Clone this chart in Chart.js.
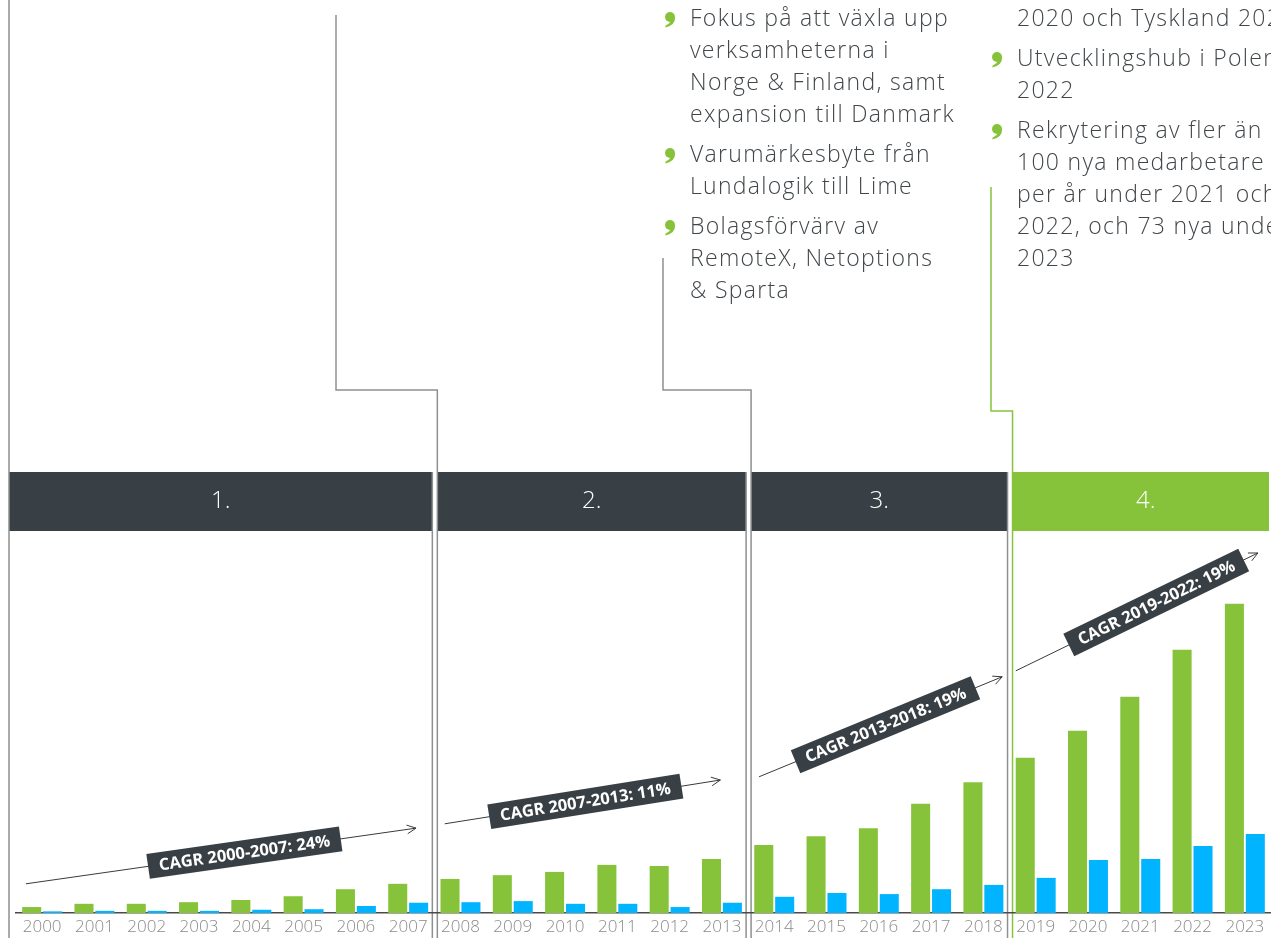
<!DOCTYPE html>
<html lang="sv">
<head>
<meta charset="utf-8">
<title>Lime – tillväxt 2000–2023</title>
<script src="https://cdn.jsdelivr.net/npm/chart.js@4.4.1/dist/chart.umd.min.js"></script>
<style>
  html, body { margin: 0; padding: 0; background: #ffffff; overflow: hidden; }
  #wrap { position: absolute; left: 0; top: 0; width: 1271px; height: 938px; }
  canvas { display: block; }
</style>
</head>
<body>
<div id="wrap"><canvas id="c" width="1271" height="938"></canvas></div>
<script>
// ---------- data (approx. MSEK) ----------
const years = ['2000','2001','2002','2003','2004','2005','2006','2007',
               '2008','2009','2010','2011','2012','2013',
               '2014','2015','2016','2017','2018',
               '2019','2020','2021','2022','2023'];
const greenValues = [11,17,17,20,24,31,44,54, 63,70,76,89,87,100, 126,142,157,202,242, 287,337,400,487,572];
const blueValues  = [3,4,4,4,6,7,13,19, 20,22,17,17,11,19, 30,37,35,44,52, 65,98,100,124,146];

// phases: first and last category index of each phase
const phaseLabels = ['1.','2.','3.','4.'];
const phaseStart  = [0, 8, 14, 19];
const phaseEnd    = [7, 13, 18, 23];

// CAGR arrows: [categoryIndex, value]
const cagrLabels = ['CAGR 2000-2007: 24%','CAGR 2007-2013: 11%','CAGR 2013-2018: 19%','CAGR 2019-2022: 19%'];
const cagrFrom   = [[-0.31, 54], [7.70, 165], [13.71, 252], [18.62, 448]];
const cagrTo     = [[7.15, 157], [12.97, 246], [18.36, 437], [23.25, 666]];
const cagrLabelAt = [0.56, 0.51, 0.52, 0.58];

// milestone texts (bulleted) per column
const col2Items = [
  ['Fokus på att växla upp','verksamheterna i','Norge & Finland, samt','expansion till Danmark'],
  ['Varumärkesbyte från','Lundalogik till Lime'],
  ['Bolagsförvärv av','RemoteX, Netoptions','& Sparta']
];
const col3Lead = ['2020 och Tyskland 2021'];
const col3Items = [
  ['Utvecklingshub i Polen','2022'],
  ['Rekrytering av fler än','100 nya medarbetare','per år under 2021 och','2022, och 73 nya under','2023']
];

// ---------- style ----------
const GREEN = '#86c33a';
const BLUE = '#00b4ff';
const DARK = '#394045';
const LINE = '#8e9090';
const TEXT = '#40464a';
const BODY_FONT = '300 23px "Open Sans", Lato, sans-serif';

function drawBullet(ctx, x, y) {
  ctx.save();
  ctx.fillStyle = GREEN;
  ctx.beginPath();
  ctx.arc(x, y, 5, 0, Math.PI * 2);
  ctx.fill();
  ctx.beginPath();
  ctx.moveTo(x + 5, y);
  ctx.quadraticCurveTo(x + 5.5, y + 8, x - 4.5, y + 10.5);
  ctx.lineTo(x - 4.5, y + 8.5);
  ctx.quadraticCurveTo(x + 1, y + 6, x + 0.5, y + 3);
  ctx.closePath();
  ctx.fill();
  ctx.restore();
}

function drawTextColumn(ctx, x, bulletX, firstBaseline, lead, items) {
  ctx.save();
  ctx.font = BODY_FONT;
  if ('letterSpacing' in ctx) ctx.letterSpacing = '1.3px';
  ctx.fillStyle = TEXT;
  ctx.textBaseline = 'alphabetic';
  ctx.textAlign = 'left';
  let y = firstBaseline;
  if (lead) {
    lead.forEach(t => { ctx.fillText(t, x, y); y += 32; });
    y += 8;
  }
  items.forEach(lines => {
    drawBullet(ctx, bulletX, y - 9);
    lines.forEach(t => { ctx.fillText(t, x, y); y += 32; });
    y += 8;
  });
  ctx.restore();
}

function vline(ctx, x, y1, y2, color) {
  ctx.beginPath();
  ctx.strokeStyle = color;
  ctx.moveTo(x, y1); ctx.lineTo(x, y2);
  ctx.stroke();
}

const decor = {
  id: 'decor',
  beforeDraw(chart) {
    const ctx = chart.ctx;
    const xs = chart.scales.x;
    const H = chart.height;
    ctx.save();
    // header panels
    const headTop = 472, headBot = 531;
    phaseLabels.forEach((lab, i) => {
      const left = i === 0 ? xs.getPixelForValue(phaseStart[i] - 0.5) - 7
                           : xs.getPixelForValue(phaseStart[i] - 0.5) + 3;
      const right = xs.getPixelForValue(phaseEnd[i] + 0.5) - 2;
      ctx.fillStyle = i === 3 ? GREEN : DARK;
      ctx.fillRect(left, headTop, Math.min(right, chart.width + 10) - left, headBot - headTop);
      ctx.fillStyle = '#ffffff';
      ctx.font = '300 24px "Open Sans", Lato, sans-serif';
      ctx.textAlign = 'center';
      ctx.textBaseline = 'middle';
      const cx = i === 3 ? (left + chart.width) / 2 + 4 : (left + right) / 2;
      ctx.fillText(lab, cx, (headTop + headBot) / 2);
    });

    // lines
    ctx.lineWidth = 1.5;
    const b1 = xs.getPixelForValue(7.5), b2 = xs.getPixelForValue(13.5), b3 = xs.getPixelForValue(18.5);
    const left0 = xs.getPixelForValue(-0.5) - 7;
    vline(ctx, left0, 0, H, LINE);
    vline(ctx, b1 - 2, headTop, H, LINE);
    vline(ctx, b2 - 2, headTop, H, LINE);
    vline(ctx, b3 - 2, headTop, H, LINE);
    ctx.beginPath(); ctx.strokeStyle = LINE;
    ctx.moveTo(336, 15); ctx.lineTo(336, 390); ctx.lineTo(b1 + 3, 390); ctx.lineTo(b1 + 3, H);
    ctx.stroke();
    ctx.beginPath(); ctx.strokeStyle = LINE;
    ctx.moveTo(663, 258); ctx.lineTo(663, 390); ctx.lineTo(b2 + 3, 390); ctx.lineTo(b2 + 3, H);
    ctx.stroke();
    ctx.beginPath(); ctx.strokeStyle = GREEN;
    ctx.moveTo(991, 187); ctx.lineTo(991, 411); ctx.lineTo(b3 + 3, 411); ctx.lineTo(b3 + 3, H);
    ctx.stroke();

    // texts
    drawTextColumn(ctx, 690, 670, 26, null, col2Items);
    drawTextColumn(ctx, 1017, 997, 26, col3Lead, col3Items);
    ctx.restore();
  },
  afterDatasetsDraw(chart) {
    const ctx = chart.ctx;
    const xs = chart.scales.x, ys = chart.scales.y;
    ctx.save();
    cagrLabels.forEach((lab, i) => {
      const x1 = xs.getPixelForValue(cagrFrom[i][0]), y1 = ys.getPixelForValue(cagrFrom[i][1]);
      const x2 = xs.getPixelForValue(cagrTo[i][0]),   y2 = ys.getPixelForValue(cagrTo[i][1]);
      const ang = Math.atan2(y2 - y1, x2 - x1);
      ctx.strokeStyle = '#3a3a3a';
      ctx.lineWidth = 1;
      ctx.beginPath(); ctx.moveTo(x1, y1); ctx.lineTo(x2, y2); ctx.stroke();
      const ah = 10, aw = 0.45;
      ctx.beginPath();
      ctx.moveTo(x2 - ah * Math.cos(ang - aw), y2 - ah * Math.sin(ang - aw));
      ctx.lineTo(x2, y2);
      ctx.lineTo(x2 - ah * Math.cos(ang + aw), y2 - ah * Math.sin(ang + aw));
      ctx.stroke();
      const t = cagrLabelAt[i];
      const cx = x1 + (x2 - x1) * t, cy = y1 + (y2 - y1) * t;
      ctx.save();
      ctx.translate(cx, cy);
      ctx.rotate(ang);
      ctx.font = 'bold 16.5px "Open Sans", Lato, sans-serif';
      const w = ctx.measureText(lab).width + 22;
      ctx.fillStyle = DARK;
      ctx.fillRect(-w / 2, -12.5, w, 25);
      ctx.fillStyle = '#ffffff';
      ctx.textAlign = 'center';
      ctx.textBaseline = 'middle';
      ctx.fillText(lab, 0, 1);
      ctx.restore();
    });
    ctx.restore();
  }
};

new Chart(document.getElementById('c'), {
  type: 'bar',
  data: {
    labels: years,
    datasets: [
      { label: 'Nettoomsättning', data: greenValues, backgroundColor: GREEN, borderWidth: 0,
        categoryPercentage: 0.8, barPercentage: 0.91 },
      { label: 'Resultat', data: blueValues, backgroundColor: BLUE, borderWidth: 0,
        categoryPercentage: 0.8, barPercentage: 0.91 }
    ]
  },
  options: {
    responsive: false,
    animation: false,
    devicePixelRatio: 1,
    layout: { padding: { left: 16, right: 0, top: 540, bottom: 0 } },
    plugins: { legend: { display: false }, tooltip: { enabled: false }, title: { display: false } },
    scales: {
      x: {
        grid: { display: false, drawTicks: false },
        border: { display: true, color: '#4a4a4a', width: 1.5 },
        ticks: { color: '#8a8a8a', font: { family: '"Open Sans", Lato, sans-serif', size: 17, weight: '300' },
                 padding: 4, maxRotation: 0, autoSkip: false },
        afterFit(scale) { scale.height = 25; }
      },
      y: { display: false, min: 0, max: 690 }
    }
  },
  plugins: [decor]
});
</script>
</body>
</html>
